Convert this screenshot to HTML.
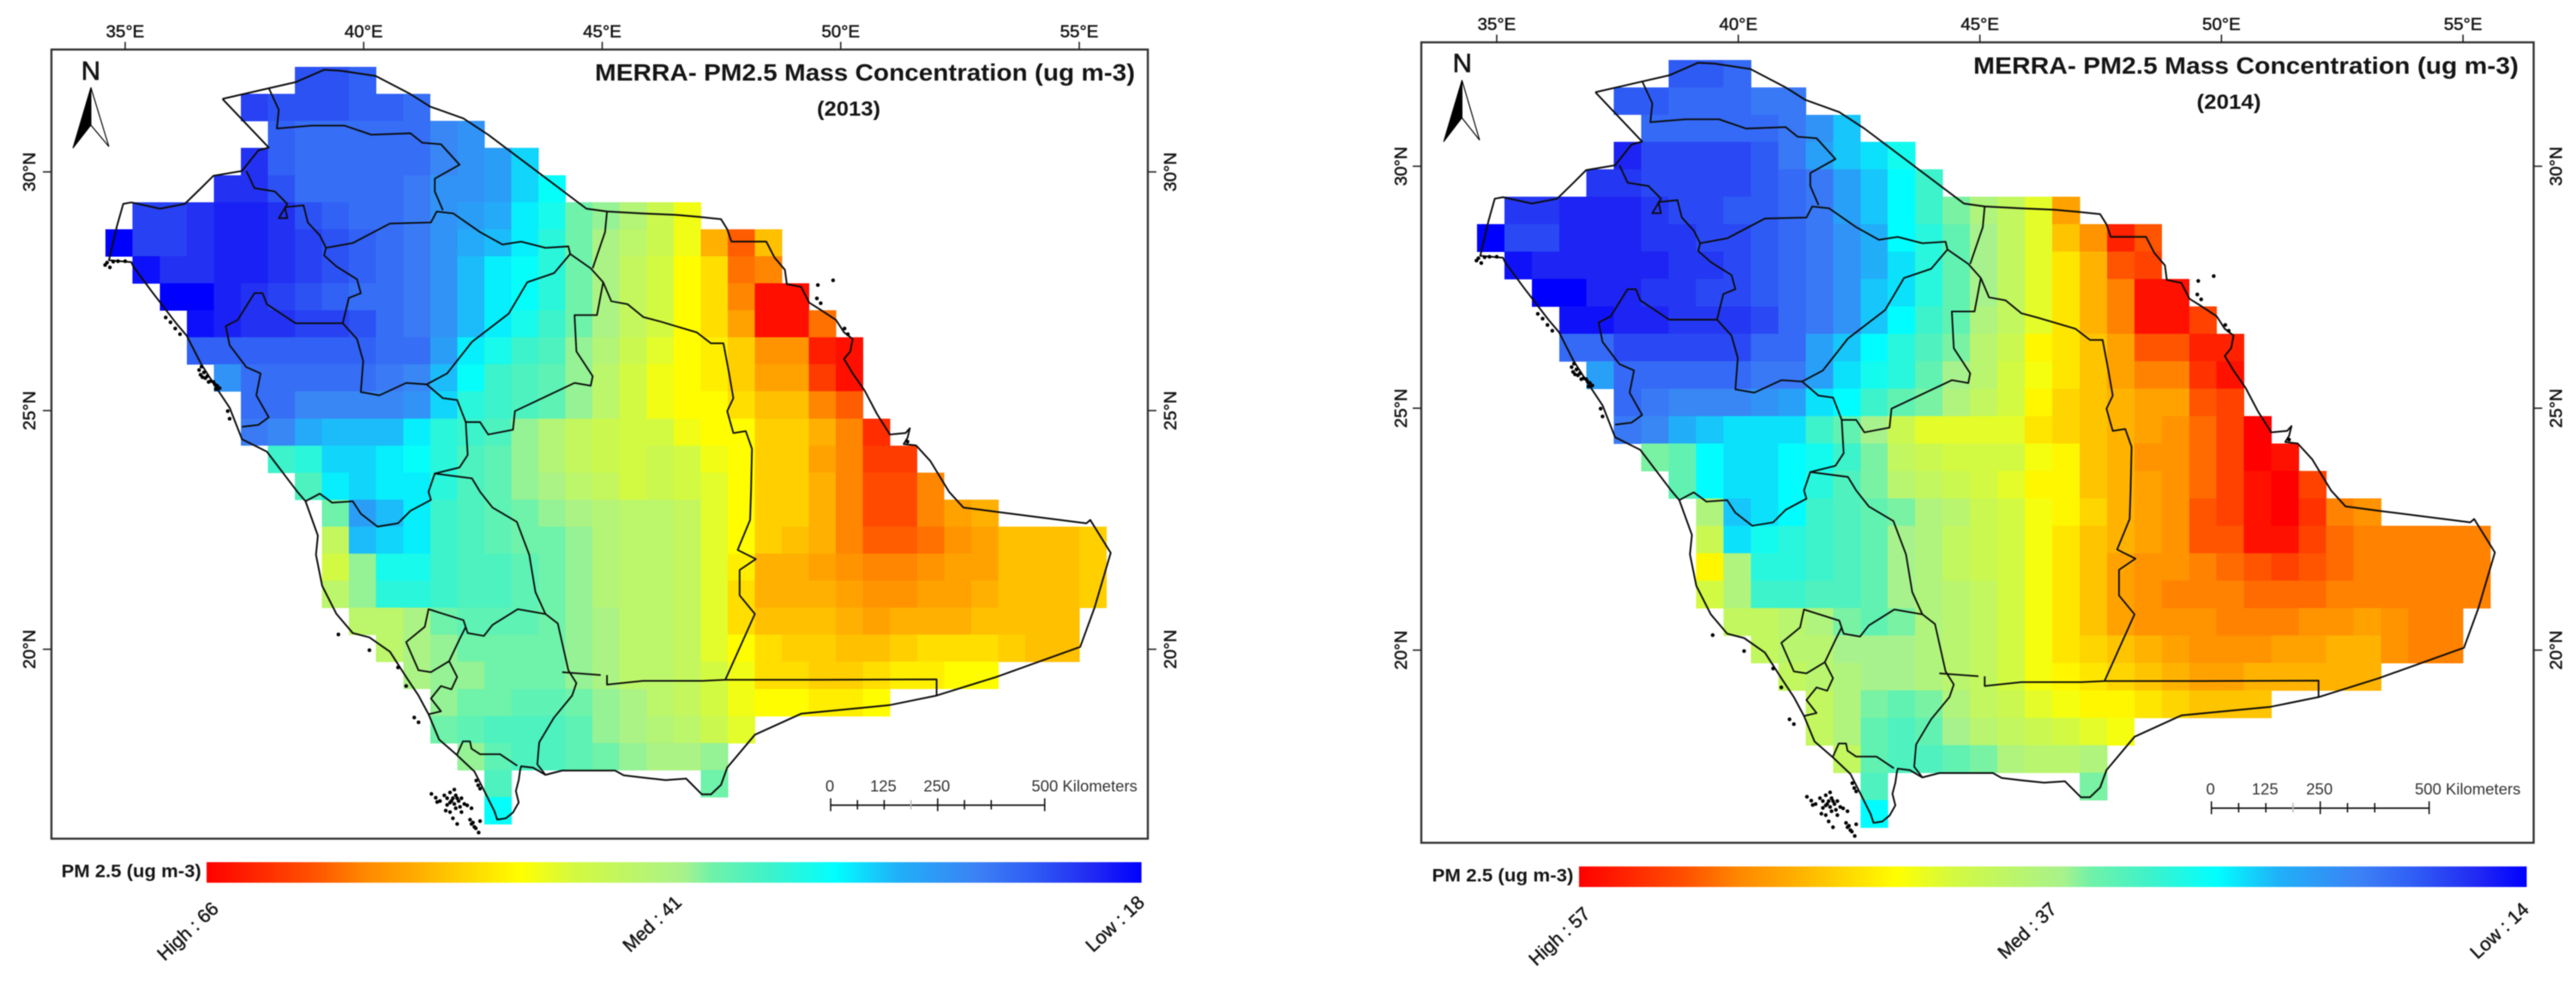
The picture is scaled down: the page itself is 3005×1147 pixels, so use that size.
<!DOCTYPE html>
<html>
<head>
<meta charset="utf-8">
<title>MERRA PM2.5 Mass Concentration 2013 and 2014</title>
<style>
html,body{margin:0;padding:0;background:#fff;}
svg{display:block;filter:blur(0.6px);}
text{font-family:"Liberation Sans",sans-serif;fill:#151515;}
.tick{font-size:20.5px;stroke:#151515;stroke-width:.5px;}
.title{font-size:28px;font-weight:bold;}
.year{font-size:24px;font-weight:bold;}
.leg{font-size:21px;font-weight:bold;}
.val{font-size:22px;stroke:#151515;stroke-width:.45px;}
.km{font-size:18.5px;fill:#333;}
.north{font-size:31px;stroke:#111;stroke-width:.7px;}
</style>
</head>
<body>
<svg id="chart" xmlns="http://www.w3.org/2000/svg" width="3005" height="1147" viewBox="0 0 3005 1147">
  <defs id="defs"></defs>
  <rect x="0" y="0" width="3005" height="1147" fill="#fff"/>

  <g id="panel-2013"></g>
  <g id="panel-2014"></g>

  <text class="title" x="694" y="94" textLength="630" lengthAdjust="spacingAndGlyphs">MERRA- PM2.5 Mass Concentration (ug m-3)</text>
  <text class="year" x="990" y="135" text-anchor="middle" textLength="74" lengthAdjust="spacingAndGlyphs">(2013)</text>
  <text class="title" x="2302" y="86" textLength="636" lengthAdjust="spacingAndGlyphs">MERRA- PM2.5 Mass Concentration (ug m-3)</text>
  <text class="year" x="2600" y="127" text-anchor="middle" textLength="75" lengthAdjust="spacingAndGlyphs">(2014)</text>

  <g>
    <text class="north" x="106" y="93" text-anchor="middle">N</text>
    <path d="M106 102 L85 173 L106 146 Z" fill="#000" stroke="#000" stroke-width="1"/>
    <path d="M106 102 L127 171 L106 146 Z" fill="#fff" stroke="#000" stroke-width="1.2"/>
  </g>
  <g>
    <text class="north" x="1705.8" y="84" text-anchor="middle">N</text>
    <path d="M1705.4 93.5 L1684 165.5 L1705.4 137.5 Z" fill="#000" stroke="#000" stroke-width="1"/>
    <path d="M1705.4 93.5 L1726 163.5 L1705.4 137.5 Z" fill="#fff" stroke="#000" stroke-width="1.2"/>
  </g>

  <text class="leg" x="71.7" y="1023.5" textLength="163" lengthAdjust="spacingAndGlyphs">PM 2.5 (ug m-3)</text>
  <text class="val" transform="translate(192 1122) rotate(-43)" textLength="88" lengthAdjust="spacingAndGlyphs">High : 66</text>
  <text class="val" transform="translate(735 1112) rotate(-43)" textLength="84" lengthAdjust="spacingAndGlyphs">Med : 41</text>
  <text class="val" transform="translate(1275 1112) rotate(-43)" textLength="84" lengthAdjust="spacingAndGlyphs">Low : 18</text>

  <text class="leg" x="1670.5" y="1028.5" textLength="165" lengthAdjust="spacingAndGlyphs">PM 2.5 (ug m-3)</text>
  <text class="val" transform="translate(1792 1128) rotate(-43)" textLength="88" lengthAdjust="spacingAndGlyphs">High : 57</text>
  <text class="val" transform="translate(2339 1120) rotate(-43)" textLength="84" lengthAdjust="spacingAndGlyphs">Med : 37</text>
  <text class="val" transform="translate(2890 1120) rotate(-43)" textLength="84" lengthAdjust="spacingAndGlyphs">Low : 14</text>
</svg>

<script>
const _ = null;

const lonTicks = [35, 40, 45, 50, 55];
const latTicks = [30, 25, 20];
const scaleLabelKm = [0, 125, 250, 500];
const scaleTickKm = [0, 62.5, 125, 187.5, 250, 312.5, 375, 500];

/* First grid column occupied in each row of the MERRA grid */
const firstColumn = [7,5,6,5,4,1,0,1,2,3,3,4,5,5,6,7,8,8,8,8,9,10,11,12,12,13,14,14];

/* PM2.5 in ug m-3, read per grid cell */
const pm2013 = [
[23,23,24],
[22,23,23,23,24,24,25],
[24,25,25,25,25,25,27,28],
[21,24,25,25,25,25,25,27,28,29,32],
[21,21,23,25,25,25,25,26,28,28,29,32,34],
[22,22,21,20,20,21,23,24,25,25,26,28,29,30,33,35,40,41,43,46,49],
[18,22,22,21,20,20,21,22,23,24,25,26,28,30,31,33,36,40,42,44,46,49,55,60,54],
[19,21,21,20,20,21,22,23,24,25,26,28,31,33,34,36,40,42,45,47,50,52,59,58],
[18,18,20,21,22,23,24,25,25,26,28,31,33,34,36,40,42,45,47,50,52,58,65,65],
[19,20,21,21,22,22,23,25,26,28,31,33,35,37,40,42,45,47,50,52,56,65,65,59],
[24,24,24,24,24,24,24,25,25,29,33,35,37,38,41,43,46,48,50,51,53,57,57,64,65],
[28,25,25,25,25,25,26,27,31,34,37,38,39,41,44,47,49,50,51,53,56,56,62,65],
[25,25,27,27,27,27,28,32,36,37,38,39,41,44,47,49,50,50,52,54,54,58,60],
[26,27,30,31,31,31,33,36,37,38,41,43,45,46,47,47,49,50,50,53,53,55,58,63],
[37,36,32,32,33,34,36,38,39,41,43,45,46,47,46,47,49,50,53,53,56,58,62,62],
[38,33,32,33,33,36,38,39,41,42,44,45,47,46,47,48,50,53,53,55,58,61,61,58],
[40,29,31,33,37,38,39,40,41,42,43,44,44,45,48,50,53,53,55,58,61,61,58,56,55],
[45,31,32,33,37,38,39,40,40,41,43,44,44,45,48,50,53,54,55,58,60,60,59,57,56,54,54,54,53],
[47,41,35,35,37,38,38,39,40,41,43,44,44,45,48,51,55,55,56,57,58,58,57,56,56,54,54,54,53],
[44,41,36,36,37,38,38,39,40,41,43,44,44,45,48,52,55,55,55,56,57,57,56,56,55,54,54,54,53],
[44,44,42,40,39,39,39,40,41,42,44,44,45,48,52,54,54,54,55,56,55,55,55,54,54,54,54],
[44,42,41,40,40,40,40,41,42,44,44,45,48,50,52,53,53,54,54,53,52,52,52,53,54,54],
[42,41,41,40,40,40,41,42,44,44,45,47,49,52,52,53,53,52,51,51,50,50],
[41,40,40,39,39,40,41,42,44,45,47,49,50,50,51,51,50],
[40,39,38,38,38,39,41,42,43,44,46,48],
[41,39,38,38,39,40,41,42,42,41],
[38,_,_,_,_,_,_,_,40],
[34]
];

const pm2014 = [
[19,19,20],
[19,19,20,20,20,21,21],
[20,20,20,20,20,21,23,26],
[16,18,18,18,18,19,21,24,26,27,29],
[17,17,18,18,18,18,19,20,21,24,26,28,31],
[17,17,16,16,16,17,18,18,19,19,20,21,24,26,28,31,34,36,38,41,48],
[14,18,18,16,16,16,17,17,18,18,19,20,21,23,25,28,30,33,35,38,41,46,49,55,52],
[15,16,16,16,16,16,17,17,18,19,20,21,23,25,27,30,33,35,38,41,44,47,52,53],
[14,14,16,16,17,17,18,18,19,20,21,23,26,27,30,33,35,38,41,44,47,50,56,56],
[15,15,16,16,17,17,17,18,20,21,23,26,28,31,33,36,38,41,44,47,50,56,56,53],
[20,20,18,18,18,18,18,20,20,24,26,28,30,32,34,37,39,43,44,46,48,52,52,55,55],
[24,20,20,20,20,20,21,21,24,27,29,30,33,35,37,40,42,44,46,48,50,50,54,56],
[20,21,22,22,22,23,24,27,28,31,33,34,36,38,40,43,45,46,47,48,48,52,53],
[21,22,25,26,27,27,27,31,33,35,39,41,41,41,41,44,45,46,47,48,49,51,53,57],
[34,33,28,27,27,28,29,31,34,38,39,40,40,40,42,43,46,47,49,49,51,53,57,56],
[33,28,27,27,28,30,32,34,37,38,39,40,41,43,43,46,47,48,49,51,53,56,57,53],
[36,26,27,28,31,32,33,34,36,37,39,40,42,43,45,47,48,49,52,53,56,57,54,50,49],
[39,27,29,30,31,32,33,35,36,38,39,40,42,44,46,47,48,49,52,52,56,56,53,51,50,50,50,50,50],
[43,36,30,30,31,32,33,35,36,38,39,40,42,44,46,48,49,49,50,51,52,53,52,51,50,50,50,50,50],
[40,36,31,31,32,32,33,35,36,37,38,40,42,44,46,48,49,50,50,50,51,51,51,50,50,50,50,50,50],
[38,38,37,36,34,33,34,36,37,38,40,42,44,46,48,49,49,49,50,50,50,49,49,48,49,50,50],
[38,37,37,35,35,35,36,37,38,40,42,44,45,46,47,48,49,49,49,48,48,47,47,49,50,50],
[38,37,36,35,35,36,37,38,40,42,43,44,45,46,47,48,48,47,47,47,47,47],
[38,36,34,33,34,36,38,39,41,42,43,43,44,45,46,46,46],
[38,36,33,32,33,35,37,38,39,40,41,42],
[38,33,32,32,33,34,36,37,37,36],
[32,_,_,_,_,_,_,_,34],
[28]
];

/* Colour ramp: position from high (0) to low (1) and colour */
const rampPositions = [0,.112,.169,.218,.336,.393,.511,.54,.6,.673,.739,.826,.883,.949,1];
const rampColors = ["#ff0000","#ff5000","#ff8800","#ffa800","#ffff00","#d4fa40","#a8f28c","#70f2a8","#40f2c8","#00ffff","#20b0f8","#3c80f5","#2f5cf5","#2028f2","#0000ff"];

/* Administrative outline and internal boundaries, lon/lat pairs */
const countryOutline = [[37.04,31.53],[38.57,31.88],[39.17,32.14],[39.51,32.12],[40.25,32.01],[40.98,31.63],[41.39,31.37],[42.09,31.12],[42.61,30.78],[44.67,29.23],[45.10,29.17],[45.86,29.13],[46.55,29.10],[47.02,29.06],[47.49,29.01],[47.62,28.80],[47.71,28.54],[48.44,28.54],[48.61,28.21],[48.83,27.95],[48.87,27.65],[49.17,27.59],[49.34,27.26],[49.55,27.13],[49.90,26.90],[50.07,26.64],[50.25,26.50],[50.20,26.24],[50.07,26.08],[50.25,25.78],[50.50,25.42],[50.76,24.93],[51.03,24.50],[51.36,24.53],[51.45,24.63],[51.40,24.43],[51.32,24.30],[51.58,24.27],[51.88,23.94],[52.27,23.30],[52.57,22.97],[53.34,22.87],[55.15,22.64],[55.23,22.71],[55.66,22.02],[55.32,20.87],[55.02,20.05],[53.26,19.42],[52.01,19.03],[51.02,18.83],[49.17,18.65],[48.20,18.21],[47.62,17.52],[47.49,17.16],[47.28,16.96],[47.09,16.96],[46.76,17.29],[46.33,17.26],[45.86,17.31],[45.45,17.36],[45.27,17.46],[44.16,17.46],[43.81,17.37],[43.55,17.52],[43.30,17.55],[43.28,17.47],[43.25,17.26],[43.19,17.03],[43.25,16.79],[43.13,16.58],[42.98,16.46],[42.80,16.43],[42.74,16.61],[42.56,16.97],[42.32,17.44],[41.96,17.78],[41.58,18.11],[41.36,18.64],[41.15,19.03],[40.89,19.42],[40.55,19.95],[40.12,20.25],[39.77,20.34],[39.43,20.74],[39.13,21.33],[39.0,21.98],[39.04,22.38],[38.78,23.10],[38.61,23.30],[37.97,24.14],[37.45,24.40],[37.19,25.06],[36.93,25.45],[36.59,25.98],[36.29,26.57],[36.07,26.83],[35.56,27.49],[35.17,28.02],[35.13,28.11],[34.66,28.15],[34.83,28.87],[34.96,29.33],[35.13,29.36],[35.73,29.23],[36.25,29.33],[36.59,29.66],[36.85,29.92],[37.45,30.02],[37.79,30.45],[38.01,30.51],[37.04,31.53]];
const regionBoundaries = [
[[38.01,31.76],[38.22,31.30],[38.18,30.91],[38.91,30.97],[39.60,30.97],[40.16,30.78],[40.98,30.81],[41.23,30.61],[41.62,30.58],[42.01,30.15],[41.49,29.86],[41.49,29.59],[41.66,29.20]],
[[37.54,30.02],[37.71,29.66],[38.14,29.59],[38.40,29.33],[38.22,29.03],[38.40,29.03],[38.35,29.26],[38.74,29.30],[38.83,28.94],[39.08,28.67],[39.21,28.41]],
[[39.21,28.41],[39.77,28.51],[40.55,28.92],[41.41,28.94],[41.53,29.17],[41.88,29.13],[42.44,28.74],[42.91,28.48],[43.30,28.54],[43.81,28.41],[44.29,28.44],[44.33,28.28]],
[[39.21,28.41],[39.17,28.25],[39.43,28.02],[39.86,27.75],[39.94,27.46],[39.69,27.36],[39.56,26.83],[39.86,26.50],[39.99,26.04],[39.94,25.39],[40.33,25.32],[40.89,25.58],[41.32,25.55]],
[[39.56,26.83],[38.57,26.83],[37.97,27.23],[37.88,27.46],[37.71,27.46],[37.36,26.90],[37.11,26.77],[37.19,26.37],[37.54,25.91],[37.84,25.78],[37.75,25.32],[38.01,24.86],[37.79,24.70],[37.45,24.66]],
[[41.32,25.55],[41.75,25.78],[42.27,26.44],[43.04,27.03],[43.43,27.69],[43.99,27.88],[44.33,28.28],[44.76,27.98],[45.02,27.69],[45.19,27.29],[45.53,27.23],[45.86,26.96],[46.20,26.87],[46.98,26.64],[47.28,26.41],[47.54,26.41],[47.66,25.78],[47.75,25.26],[47.62,24.99],[47.75,24.53],[48.01,24.57],[48.14,24.20],[48.12,23.30],[48.10,22.71],[47.84,22.08],[48.22,21.89],[47.88,21.66],[47.88,21.13],[48.20,20.74],[47.58,19.36]],
[[45.10,29.17],[45.06,28.74],[44.80,27.98]],
[[45.02,27.69],[44.89,27.0],[44.42,27.0],[44.46,26.24],[44.80,25.72],[44.76,25.52],[44.42,25.58],[43.81,25.29],[43.17,24.99],[43.13,24.60],[42.61,24.50],[42.44,24.76],[42.14,24.76],[41.96,25.22],[41.66,25.26],[41.32,25.55]],
[[42.14,24.76],[42.18,24.07],[42.01,23.81],[41.49,23.68],[42.27,23.58],[42.44,23.30],[42.70,22.97],[43.21,22.67],[43.47,21.98],[43.60,21.20],[43.81,20.74],[44.07,20.54],[44.29,19.56],[44.46,19.29],[44.37,19.03],[43.99,18.57],[43.68,18.05],[43.64,17.59],[43.81,17.37]],
[[38.78,23.10],[39.08,23.26],[39.34,23.07],[39.77,23.10],[39.94,22.84],[40.29,22.57],[40.72,22.64],[40.98,22.90],[41.41,23.13],[41.36,23.30],[41.49,23.68]],
[[43.81,20.74],[43.23,20.84],[42.70,20.51],[42.52,20.28],[42.18,20.34],[42.09,20.61],[41.36,20.84],[41.28,20.47],[40.89,20.15],[41.15,19.56],[41.41,19.52],[41.79,19.75],[42.01,20.21],[42.14,20.47]],
[[41.79,19.75],[41.96,19.42],[41.84,19.16],[41.62,19.23],[41.41,18.97],[41.62,18.70],[41.36,18.64]],
[[41.96,17.80],[42.08,18.07],[42.23,18.07],[42.26,17.92],[42.44,17.80],[42.86,17.80],[43.22,17.56]],
[[44.16,19.52],[44.97,19.46]],
[[45.10,19.46],[45.10,19.26],[45.86,19.34],[47.11,19.34],[47.58,19.36],[49.55,19.36],[52.01,19.37],[52.01,19.03]]
];
/* Small islands and coastal specks, lon/lat pairs */
const islandDots = [[41.42,16.97],[41.51,16.89],[41.60,16.82],[41.54,16.80],[41.69,16.94],[41.75,16.88],[41.81,17.0],[41.90,17.06],[41.93,16.94],[41.87,16.88],[41.81,16.79],[41.75,16.74],[41.90,16.76],[41.99,16.82],[42.05,16.88],[42.11,16.76],[42.02,16.70],[41.93,16.67],[42.17,16.73],[42.26,16.67],[41.72,16.62],[41.81,16.59],[41.87,16.46],[41.96,16.34],[42.23,16.43],[42.29,16.37],[42.32,16.28],[42.41,16.16],[42.44,16.40],[42.35,16.25],[42.26,16.34],[41.84,16.82],[41.96,16.88],[42.05,16.59],[42.36,17.25],[42.40,17.15],[42.44,17.08],[36.55,25.85],[36.65,25.8],[36.72,25.72],[36.8,25.62],[36.88,25.55],[36.98,25.47],[36.75,25.6],[36.62,25.7],[36.9,25.45],[36.6,25.92],[36.58,25.75],[36.68,25.68],[36.85,25.6],[36.93,25.52],[37.15,24.99],[37.19,24.83],[34.58,28.05],[34.62,28.1],[34.68,28.0],[34.75,28.12],[34.85,28.13],[35.0,28.13],[35.85,26.95],[35.95,26.85],[36.05,26.72],[36.15,26.6],[49.52,27.63],[49.84,27.73],[49.5,27.35],[49.58,27.25],[50.08,26.72],[50.15,26.6],[51.4,24.35],[39.47,20.31],[40.12,19.98],[40.72,19.62],[41.06,18.57],[41.15,18.47],[40.89,19.23]];

/* Grid geometry in degrees */
const gridLon0 = 34.59, gridLat0 = 32.2, gridDLon = 0.567, gridDLat = 0.5665;

function hexToRgb(h){return [parseInt(h.substr(1,2),16),parseInt(h.substr(3,2),16),parseInt(h.substr(5,2),16)];}
function rampColor(t){
  t=Math.max(0,Math.min(1,t));
  for(let i=1;i<rampPositions.length;i++){
    if(t<=rampPositions[i]){
      const f=(t-rampPositions[i-1])/(rampPositions[i]-rampPositions[i-1]);
      const a=hexToRgb(rampColors[i-1]),b=hexToRgb(rampColors[i]);
      return 'rgb('+[0,1,2].map(k=>Math.round(a[k]+(b[k]-a[k])*f)).join(',')+')';
    }
  }
  return rampColors[rampColors.length-1];
}
const NS='http://www.w3.org/2000/svg';
function mk(parent,tag,attrs,text){
  const el=document.createElementNS(NS,tag);
  for(const k in attrs)el.setAttribute(k,attrs[k]);
  if(text!==undefined)el.textContent=text;
  parent.appendChild(el);
  return el;
}

function drawPanel(p){
  const root=document.getElementById(p.id);
  const xOf=lon=>p.xAt35+(lon-35)*p.pxPerLon;
  const yOf=lat=>p.yAt30+(30-lat)*p.pxPerLat;
  const kmX=km=>p.scaleX0+km*p.pxPerKm;
  const tOf=v=>(p.high-v)/(p.high-p.low);

  const cellsG=mk(root,'g',{'shape-rendering':'crispEdges'});
  
  
  p.values.forEach((row,r)=>{
    row.forEach((v,i)=>{
      if(v===null)return;
      const c=firstColumn[r]+i;
      const x0=xOf(gridLon0+c*gridDLon),x1=xOf(gridLon0+(c+1)*gridDLon);
      const y0=yOf(gridLat0-r*gridDLat),y1=yOf(gridLat0-(r+1)*gridDLat);
      const cell=mk(cellsG,'rect',{x:x0,y:y0,width:x1-x0+.4,height:y1-y0+.4,fill:rampColor(tOf(v))});
      
      
    });
  });

  const toPath=pts=>pts.map((q,i)=>(i?'L':'M')+xOf(q[0]).toFixed(1)+' '+yOf(q[1]).toFixed(1)).join(' ');
  const outline=mk(root,'path',{d:toPath(countryOutline),fill:'none',stroke:'#0c0c0c','stroke-width':2,'stroke-linejoin':'round'});
  
  
  regionBoundaries.forEach(b=>{
    const line=mk(root,'path',{d:toPath(b),fill:'none',stroke:'#0c0c0c','stroke-width':1.9,'stroke-linejoin':'round'});
    
    
  });
  islandDots.forEach(d=>{
    const dot=mk(root,'circle',{cx:xOf(d[0]),cy:yOf(d[1]),r:2.2,fill:'#000'});
    
    
  });

  const frame=mk(root,'rect',{x:p.left,y:p.top,width:p.right-p.left,height:p.bottom-p.top,fill:'none',stroke:'#333','stroke-width':2.4});
  
  

  lonTicks.forEach(v=>{
    const x=xOf(v);
    const t=mk(root,'line',{x1:x,x2:x,y1:p.top-9,y2:p.top,stroke:'#222','stroke-width':1.6});
    
    
    const l=mk(root,'text',{class:'tick',x:x,y:p.top-14.5,'text-anchor':'middle'},v+'°E');
    
    
  });
  latTicks.forEach(v=>{
    const y=yOf(v);
    const t1=mk(root,'line',{x1:p.left-10,x2:p.left,y1:y,y2:y,stroke:'#222','stroke-width':1.6});
    
    
    const t2=mk(root,'line',{x1:p.right,x2:p.right+10,y1:y,y2:y,stroke:'#222','stroke-width':1.6});
    
    
    const l1=mk(root,'text',{class:'tick','text-anchor':'middle',transform:'translate('+(p.latLabelLeft+7.5)+' '+y+') rotate(-90)'},v+'°N');
    
    
    const l2=mk(root,'text',{class:'tick','text-anchor':'middle',transform:'translate('+(p.latLabelRight+7.5)+' '+y+') rotate(-90)'},v+'°N');
    
    
  });

  const bar=mk(root,'line',{x1:kmX(0),x2:kmX(500),y1:p.scaleY,y2:p.scaleY,stroke:'#111','stroke-width':1.7});
  
  
  scaleTickKm.forEach(km=>{
    const major=(km===0||km===250||km===500);
    const faint=(km===187.5);
    const t=mk(root,'line',{x1:kmX(km),x2:kmX(km),y1:p.scaleY-(major?8:6),y2:p.scaleY+(major?7:5),stroke:faint?'#bbb':'#111','stroke-width':1.6});
    
    
  });
  scaleLabelKm.forEach(km=>{
    const isLast=km===500;
    const l=mk(root,'text',{class:'km',x:isLast?p.scaleLastX:kmX(km)-1,y:p.scaleY-16,'text-anchor':isLast?'start':'middle'},isLast?km+' Kilometers':String(km));
    
    
  });

  const defs=document.getElementById('defs');
  const grad=mk(defs,'linearGradient',{id:'ramp-'+p.id,x1:0,x2:1,y1:0,y2:0});
  rampPositions.forEach((pos,i)=>mk(grad,'stop',{offset:pos,'stop-color':rampColors[i]}));
  const leg=mk(root,'rect',{x:p.legX0,y:p.legY0,width:p.legX1-p.legX0,height:p.legY1-p.legY0,fill:'url(#ramp-'+p.id+')'});
  
  
}

drawPanel({id:'panel-2013',values:pm2013,high:66,low:18,
  xAt35:146,yAt30:200.6,pxPerLon:55.65,pxPerLat:55.7,
  left:60,top:57.8,right:1339,bottom:978.6,latLabelLeft:33.5,latLabelRight:1364.6,
  scaleX0:969,pxPerKm:0.4994,scaleY:939.5,scaleLastX:1203.4,
  legX0:241,legX1:1331.6,legY0:1006,legY1:1030});
drawPanel({id:'panel-2014',values:pm2014,high:57,low:14,
  xAt35:1746,yAt30:194,pxPerLon:56.36,pxPerLat:56.46,
  left:1658,top:49.4,right:2955.6,bottom:983.4,latLabelLeft:1633.5,latLabelRight:2981,
  scaleX0:2579.7,pxPerKm:0.508,scaleY:943,scaleLastX:2817,
  legX0:1842,legX1:2947.5,legY0:1011,legY1:1035});
</script>
</body>
</html>
